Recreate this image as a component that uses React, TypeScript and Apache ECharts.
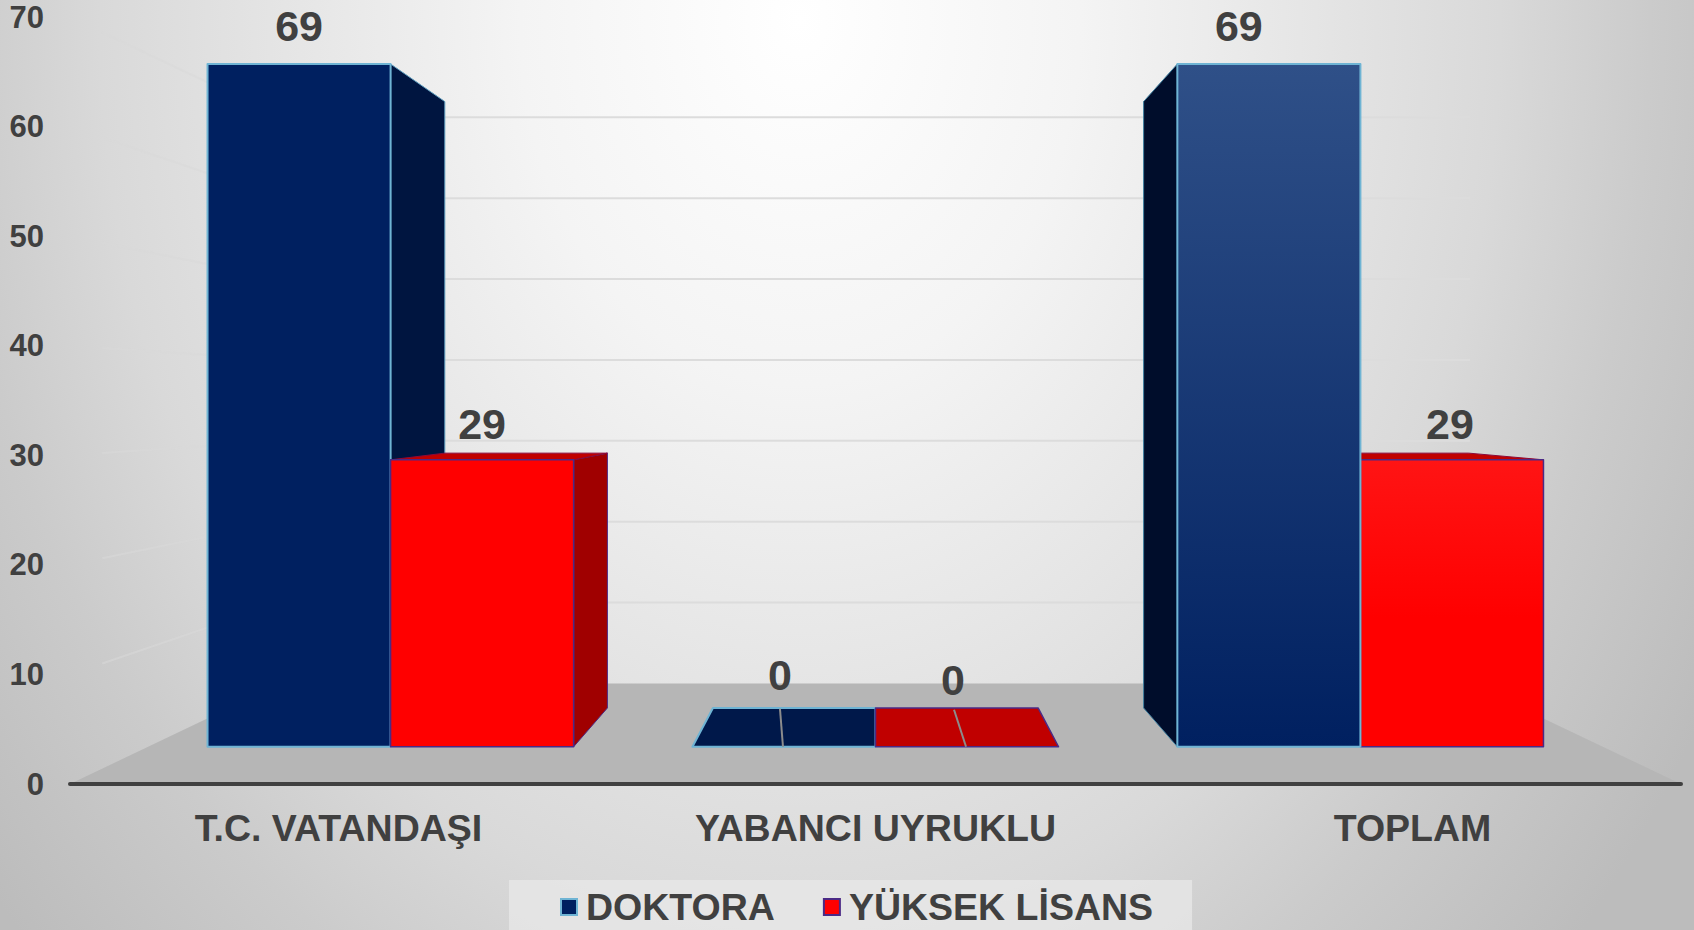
import React, { useEffect, useRef } from "react";
import * as echarts from "echarts";

const categories = ["T.C. VATANDAŞI", "YABANCI UYRUKLU", "TOPLAM"];
const doktora = [69, 0, 69];
const yuksekLisans = [29, 0, 29];
const yTicks = [0, 10, 20, 30, 40, 50, 60, 70];

const FONT = "'Liberation Sans', Arial, sans-serif";
const TEXT = "#404040";
const VY = 400;
const S_FRONT = 0.903;
const S_BACK = 0.802;
const S_WALL = 0.738;
const BAR_FRAC = 0.3775;
const LABEL_NUDGE = [
  [[0, -38], [0, -36]],
  [[-4, -72], [-14, -67]],
  [[-30, -38], [-2, -36]],
];
const LEADERS = [
  [[-4, -38], [-1, 0]],
  [[-13, -37], [-1, 0]],
];

const makeBar = (seriesIndex: number) => (params: any, api: any) => {
  const cat = api.value(0);
  const val = api.value(1);
  const sys = params.coordSys;
  const vx = sys.x + sys.width / 2;
  const [cx, yTop] = api.coord([cat, val]);
  const [, yBase] = api.coord([cat, 0]);
  const w = api.size([1, 0])[0] * BAR_FRAC;
  const xl = seriesIndex === 0 ? cx - w : cx;
  const xr = seriesIndex === 0 ? cx : cx + w;
  const p = (x: number, y: number, s: number) => [vx + (x - vx) * s, VY + (y - VY) * s];
  const blue = seriesIndex === 0;
  const edge = blue ? "#6fb4d4" : "#4b2a86";
  const edgeW = blue ? 2 : 1.5;
  const z = cat === 2 ? (blue ? 20 : 10) : blue ? 10 : 20;
  const children: any[] = [];
  const poly = (pts: number[][], fill: any, stroke: string | null, lw: number, zz: number) =>
    children.push({
      type: "polygon",
      z2: zz,
      shape: { points: pts },
      style: { fill, stroke: stroke || fill, lineWidth: stroke ? lw : 0.5, lineJoin: "round" },
    });

  const sideFill = blue ? (cat === 2 ? "#000d2b" : "#001540") : "#a00000";
  const topFill = blue ? "#00184a" : "#c00000";

  if (xr < vx) {
    poly(
      [p(xr, yBase, S_FRONT), p(xr, yTop, S_FRONT), p(xr, yTop, S_BACK), p(xr, yBase, S_BACK)],
      sideFill,
      blue ? "#5f9fc0" : edge,
      1,
      z,
    );
  } else if (xl > vx) {
    poly(
      [p(xl, yBase, S_FRONT), p(xl, yTop, S_FRONT), p(xl, yTop, S_BACK), p(xl, yBase, S_BACK)],
      sideFill,
      blue ? "#3f7f9f" : edge,
      1,
      z,
    );
  }
  if (yTop >= VY) {
    poly(
      [p(xl, yTop, S_FRONT), p(xr, yTop, S_FRONT), p(xr, yTop, S_BACK), p(xl, yTop, S_BACK)],
      topFill,
      val === 0 ? edge : blue ? edge : "#8a0a3a",
      val === 0 ? edgeW : 1,
      z + 1,
    );
  }
  if (val > 0) {
    let fill: any = blue ? "#002060" : "#ff0000";
    if (cat === 2) {
      fill = blue
        ? new echarts.graphic.LinearGradient(0, 0, 0, 1, [
            { offset: 0, color: "#2f5088" },
            { offset: 1, color: "#002060" },
          ])
        : new echarts.graphic.LinearGradient(0, 0, 0, 1, [
            { offset: 0, color: "#ff1414" },
            { offset: 0.55, color: "#ff0000" },
            { offset: 1, color: "#ff0000" },
          ]);
    }
    poly(
      [p(xl, yTop, S_FRONT), p(xr, yTop, S_FRONT), p(xr, yBase, S_FRONT), p(xl, yBase, S_FRONT)],
      fill,
      edge,
      edgeW,
      z + 2,
    );
  }

  const front = p((xl + xr) / 2, yTop, S_FRONT);
  if (val === 0) {
    const [a, b] = LEADERS[seriesIndex];
    children.push({
      type: "line",
      z2: 40,
      shape: { x1: front[0] + a[0], y1: front[1] + a[1], x2: front[0] + b[0], y2: front[1] + b[1] },
      style: { stroke: "#8c8c8c", lineWidth: 2 },
    });
  }
  const nudge = LABEL_NUDGE[cat][seriesIndex];
  children.push({
    type: "text",
    z2: 50,
    style: {
      text: String(val),
      x: front[0] + nudge[0],
      y: front[1] + nudge[1],
      align: "center",
      verticalAlign: "middle",
      fontSize: 43,
      fontWeight: "bold",
      fontFamily: FONT,
      fill: TEXT,
    },
  });
  return { type: "group", children };
};

const renderFloor = (params: any, api: any) => {
  const sys = params.coordSys;
  const vx = sys.x + sys.width / 2;
  const y0 = api.coord([0, 0])[1];
  const p = (x: number, y: number, s: number) => [vx + (x - vx) * s, VY + (y - VY) * s];
  const xL = sys.x;
  const xR = sys.x + sys.width;
  return {
    type: "polygon",
    shape: { points: [p(xL, y0, 1), p(xR, y0, 1), p(xR, y0, S_WALL), p(xL, y0, S_WALL)] },
    style: { fill: "#b6b6b6" },
  };
};

const renderGrid = (params: any, api: any) => {
  const sys = params.coordSys;
  const vx = sys.x + sys.width / 2;
  const y = api.coord([0, api.value(1)])[1];
  const p = (x: number, yy: number, s: number) => [vx + (x - vx) * s, VY + (yy - VY) * s];
  const xL = sys.x;
  const xR = sys.x + sys.width;
  const a = p(xL, y, 0.96);
  const b = p(xL, y, S_WALL);
  const c = p(xR, y, S_WALL);
  return {
    type: "group",
    children: [
      {
        type: "line",
        shape: { x1: a[0], y1: a[1], x2: b[0], y2: b[1] },
        style: { stroke: "rgba(216,216,216,0.55)", lineWidth: 2 },
      },
      {
        type: "line",
        shape: { x1: b[0], y1: b[1], x2: c[0], y2: c[1] },
        style: { stroke: "#dcdcdc", lineWidth: 2 },
      },
    ],
  };
};

export default function App() {
  const ref = useRef<HTMLDivElement>(null);
  useEffect(() => {
    document.body.style.margin = "0";
    const chart = echarts.init(ref.current!, undefined, { renderer: "svg" });
    chart.setOption({
      animation: false,
      backgroundColor: "transparent",
      grid: { left: 70, right: 13, top: 17, bottom: 146 },
      xAxis: {
        type: "category",
        data: categories,
        z: 10,
        axisTick: { show: false },
        axisLine: { show: true, lineStyle: { color: "#404040", width: 4 } },
        axisLabel: {
          color: TEXT,
          fontFamily: FONT,
          fontWeight: "bold",
          fontSize: 37.5,
          margin: 25,
          interval: 0,
        },
      },
      yAxis: {
        type: "value",
        min: 0,
        max: 70,
        interval: 10,
        axisLine: { show: false },
        axisTick: { show: false },
        splitLine: { show: false },
        axisLabel: {
          color: TEXT,
          fontFamily: FONT,
          fontWeight: "bold",
          fontSize: 31,
          margin: 26,
        },
      },
      legend: {
        show: true,
        left: 509,
        top: 880,
        padding: [8, 39, 8, 51],
        backgroundColor: "rgba(232,232,232,0.75)",
        itemWidth: 16,
        itemHeight: 16,
        itemGap: 48,
        textStyle: {
          color: TEXT,
          fontFamily: FONT,
          fontWeight: "bold",
          fontSize: 37.5,
          padding: [0, 0, 0, 4],
        },
        data: [
          { name: "DOKTORA", icon: "rect", itemStyle: { color: "#002060", borderColor: "#6fb4d4", borderWidth: 2 } },
          { name: "YÜKSEK LİSANS", icon: "rect", itemStyle: { color: "#ff0000", borderColor: "#4b2a86", borderWidth: 2 } },
        ],
      },
      series: [
        {
          type: "custom",
          name: "floor",
          z: 1,
          silent: true,
          clip: false,
          renderItem: renderFloor,
          data: [[0, 0]],
          encode: { x: 0, y: 1 },
        },
        {
          type: "custom",
          name: "walls",
          z: 1,
          silent: true,
          clip: false,
          renderItem: renderGrid,
          data: yTicks.filter((t) => t > 0).map((t) => [0, t]),
          encode: { x: 0, y: 1 },
        },
        {
          type: "custom",
          name: "DOKTORA",
          z: 3,
          clip: false,
          itemStyle: { color: "#002060" },
          renderItem: makeBar(0),
          data: doktora.map((v, i) => [i, v]),
          encode: { x: 0, y: 1 },
        },
        {
          type: "custom",
          name: "YÜKSEK LİSANS",
          z: 3,
          clip: false,
          itemStyle: { color: "#ff0000" },
          renderItem: makeBar(1),
          data: yuksekLisans.map((v, i) => [i, v]),
          encode: { x: 0, y: 1 },
        },
      ],
    });
    return () => chart.dispose();
  }, []);
  return (
    <div
      style={{
        position: "absolute",
        left: 0,
        top: 0,
        width: 1694,
        height: 930,
        overflow: "hidden",
        background:
          "radial-gradient(ellipse 1000px 1300px at 800px 20px, #ffffff 0%, #f4f4f4 28%, #e6e6e6 50%, #d9d9d9 70%, #cbcbcb 85%, #bcbcbc 105%)",
      }}
    >
      <div ref={ref} style={{ width: 1694, height: 930 }} />
    </div>
  );
}
